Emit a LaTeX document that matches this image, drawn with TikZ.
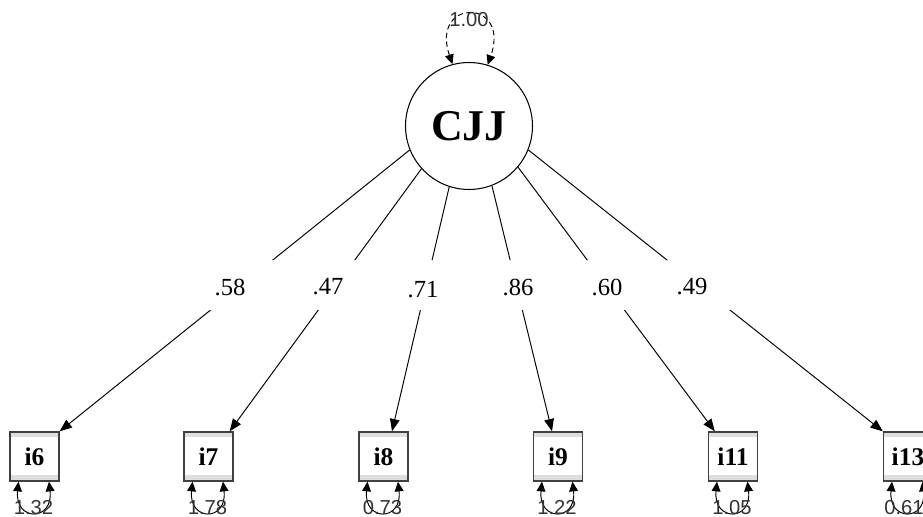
\documentclass[tikz,border=0pt]{standalone}
\usepackage{fontspec}
\setmainfont{Liberation Serif}
\newfontfamily\sansf{Liberation Sans}
\usetikzlibrary{arrows.meta,calc}
\begin{document}
\begin{tikzpicture}[x=0.02cm,y=-0.02cm,
  latent/.style={circle,draw,line width=0.6pt,minimum size=2.54cm,inner sep=0pt,
    font=\fontsize{25}{25}\selectfont\bfseries},
  manifest/.style={rectangle,draw=black!75,line width=0.8pt,fill=white,minimum size=0.98cm,inner sep=0pt,
    font=\fontsize{14.5}{14.5}\selectfont\bfseries,
    path picture={\fill[black!13] (path picture bounding box.north west) rectangle ([yshift=-0.1cm]path picture bounding box.north east);
                  \fill[black!13] (path picture bounding box.south west) rectangle ([yshift=0.12cm]path picture bounding box.south east);}},
  loading/.style={line width=0.55pt,-{Triangle[length=7pt,width=5.5pt]}},
  lab/.style={font=\fontsize{14}{14}\selectfont,inner sep=0pt},
  resid/.style={line width=0.55pt,{Triangle[length=5.5pt,width=5pt]}-{Triangle[length=5.5pt,width=5pt]}},
  vlab/.style={font=\sansf\fontsize{11.5}{11.5}\selectfont,text=black!80,inner sep=0pt},
]
\useasboundingbox (0,0) rectangle (923,517);

\node[latent] (cjj) at (469,126) {CJJ};

\node[manifest] (i6) at (34.5,456.5) {i6};
\node[manifest] (i7) at (208.5,456.5) {i7};
\node[manifest] (i8) at (383.5,456.5) {i8};
\node[manifest] (i9) at (558,456.5) {i9};
\node[manifest] (i11) at (733,456.5) {i11};
\node[manifest] (i13) at (908,456.5) {i13};

\begin{scope}
\clip (0,0) rectangle (923,260) (0,310) rectangle (923,517);
\draw[loading] (cjj.202) -- (i6.north east);
\draw[loading] (cjj.222.5) -- ($(i7.north east)+(-4,0)$);
\draw[loading] (cjj.252.7) -- ($(i8.north)+(8.5,0)$);
\draw[loading] (cjj.291) -- ($(i9.north)+(-6,0)$);
\draw[loading] (cjj.320) -- ($(i11.north west)+(7,0)$);
\draw[loading] (cjj.338.7) -- (i13.north west);
\end{scope}

\node[lab] (l6) at (230,287) {.58};
\node[lab] (l7) at (328,287) {.47};
\node[lab] (l8) at (423,290) {.71};
\node[lab] (l9) at (518,287) {.86};
\node[lab] (l11) at (607,287) {.60};
\node[lab] (l13) at (692,287) {.49};

\draw[resid, dash pattern=on 3pt off 2pt] (cjj.105) .. controls (430,-2) and (511,-2) .. (cjj.73);
\node[vlab] (v0) at (469,20) {1.00};

\foreach \n/\v/\dx in {i6/1.32/-1, i7/1.78/-1, i8/0.73/-1, i9/1.22/-1, i11/1.05/-1, i13/0.61/-4} {
  \draw[resid] ($(\n.south)+(-16,0)$) .. controls ($(\n.south)+(-20,40)$) and ($(\n.south)+(19,40)$) .. ($(\n.south)+(14.5,0)$);
  \node[vlab] (r\n) at ($(\n.south)+(\dx,26)$) {\v};
}
\end{tikzpicture}
\end{document}
